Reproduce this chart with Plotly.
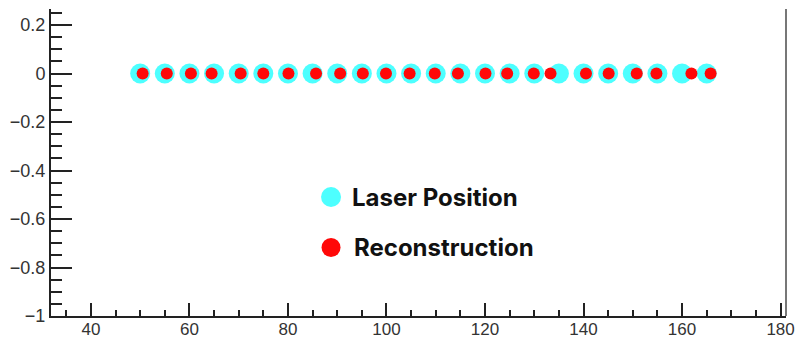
import plotly.graph_objects as go

# Data
laser_x = [50, 55, 60, 65, 70, 75, 80, 85, 90, 95, 100, 105,
           110, 115, 120, 125, 130, 135, 140, 145, 150, 155, 160, 165]
laser_y = [0] * len(laser_x)
reco_x = [50.5, 55.4, 60.3, 64.5, 70.4, 75.0, 80.1, 85.7, 90.6, 95.2, 99.9, 104.7,
          109.8, 114.5, 120.1, 124.5, 129.9, 133.3, 140.5, 145.1, 150.8, 154.8, 161.9, 165.8]
reco_y = [0] * len(reco_x)
legend_labels = ["Laser Position", "Reconstruction"]

CYAN = "#4DFFFF"
RED = "#FF0808"

fig = go.Figure()
fig.add_trace(go.Scatter(x=laser_x, y=laser_y, mode="markers", name=legend_labels[0],
                         marker=dict(color=CYAN, size=20, line=dict(width=0))))
fig.add_trace(go.Scatter(x=reco_x, y=reco_y, mode="markers", name=legend_labels[1],
                         marker=dict(color=RED, size=12, line=dict(width=0))))

axis_font = dict(family="Liberation Sans, Arial, sans-serif", size=18, color="#333333")
xaxis_font = dict(family="Liberation Sans, Arial, sans-serif", size=17, color="#333333")

fig.update_layout(
    width=797, height=341,
    margin=dict(l=51, r=11, t=9, b=25),
    paper_bgcolor="white", plot_bgcolor="white",
    showlegend=False,
    xaxis=dict(range=[31.9, 181.1], showgrid=False, zeroline=False, automargin=False,
               showline=True, linecolor="#222222", linewidth=2,
               ticks="inside", ticklen=13, tickwidth=1.5, tickcolor="#222222",
               tick0=0, dtick=20, tickfont=xaxis_font, ticklabelstandoff=-3,
               minor=dict(ticks="inside", ticklen=6, tickwidth=1.5, tickcolor="#222222", dtick=5, tick0=0)),
    yaxis=dict(range=[-1, 0.266], showgrid=False, zeroline=False, automargin=False,
               showline=True, linecolor="#222222", linewidth=2,
               ticks="inside", ticklen=21, tickwidth=1.5, tickcolor="#222222",
               tick0=0, dtick=0.2, tickfont=axis_font,
               minor=dict(ticks="inside", ticklen=11, tickwidth=1.5, tickcolor="#222222", dtick=0.05, tick0=0)),
)

# Right frame line
fig.add_shape(type="line", xref="paper", yref="paper", x0=1, x1=1, y0=0, y1=1,
              line=dict(color="#777777", width=2))

# Legend (markers + labels)
leg_font = dict(family="Inter, Roboto, Arial, sans-serif", size=24, color="#111111")
leg_items = [(legend_labels[0], CYAN, 0.3876, 20, 0.4068),
             (legend_labels[1], RED, 0.2231, 19, 0.4095)]
for label, color, yp, d, xt in leg_items:
    fig.add_shape(type="circle", xref="paper", yref="paper",
                  xsizemode="pixel", ysizemode="pixel",
                  xanchor=0.381, yanchor=yp,
                  x0=-d / 2, x1=d / 2, y0=-d / 2, y1=d / 2,
                  fillcolor=color, line=dict(width=0))
    fig.add_annotation(text="<b>" + label + "</b>", xref="paper", yref="paper",
                       x=xt, y=yp, xanchor="left", yanchor="middle",
                       showarrow=False, font=leg_font)

fig.write_html("out.html", config={"displayModeBar": False},
               post_script="document.body.style.margin='0';")
